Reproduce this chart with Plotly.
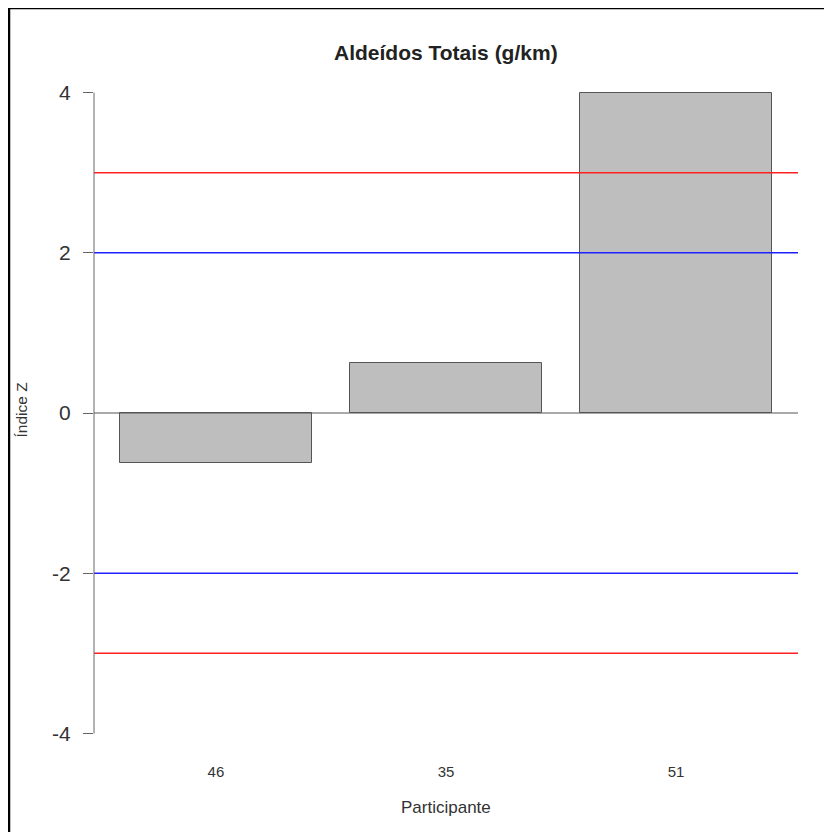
import plotly.graph_objects as go

participants = ["46", "35", "51"]
z_index = [-0.62, 0.62, 4.0]
red_limits = [3, -3]
blue_limits = [2, -2]
y_ticks = [-4, -2, 0, 2, 4]
y_tick_text = ["-4", "-2", "0", "2", "4"]

OFF = 8  # default body margin of the page
W, H = 832 - OFF, 832 - OFF
# target plot area in page pixels
PL, PR, PT, PB = 94, 798, 67, 759
L, R, T, B = PL - OFF, W + OFF - PR, PT - OFF, H + OFF - PB
PW, PH = PR - PL, PB - PT

def px(x):
    return (x - PL) / PW

def py(y):
    return (PB - y) / PH

FONT = "Liberation Sans, Arial, Helvetica, sans-serif"

fig = go.Figure()
fig.add_trace(go.Bar(
    x=participants, y=z_index, width=0.833,
    marker=dict(color="#bebebe", line=dict(color="#555555", width=1)),
    hoverinfo="x+y",
))

shapes = []
shapes.append(dict(type="line", xref="paper", x0=0, x1=1, yref="y", y0=0, y1=0,
                   line=dict(color="#555555", width=1), layer="above"))
for v in red_limits:
    shapes.append(dict(type="line", xref="paper", x0=0, x1=1, yref="y", y0=v, y1=v,
                       line=dict(color="#ff2020", width=1.5), layer="above"))
for v in blue_limits:
    shapes.append(dict(type="line", xref="paper", x0=0, x1=1, yref="y", y0=v, y1=v,
                       line=dict(color="#2020ff", width=1.5), layer="above"))
shapes.append(dict(type="line", xref="paper", x0=0, x1=0, yref="y", y0=y_ticks[0], y1=y_ticks[-1],
                   line=dict(color="#666666", width=1), layer="above"))
# page frame (left and top)
shapes.append(dict(type="line", xref="paper", yref="paper", x0=px(9), x1=px(9), y0=py(8), y1=py(850),
                   line=dict(color="black", width=2.5)))
shapes.append(dict(type="line", xref="paper", yref="paper", x0=px(8), x1=px(850), y0=py(8), y1=py(8),
                   line=dict(color="black", width=2.5)))

annotations = [
    dict(text="<b>Aldeídos Totais (g/km)</b>", xref="paper", yref="paper", x=0.5, y=py(53),
         xanchor="center", yanchor="middle", showarrow=False,
         font=dict(family=FONT, size=21, color="#222222")),
    dict(text="Participante", xref="paper", yref="paper", x=0.5, y=py(807),
         xanchor="center", yanchor="middle", showarrow=False,
         font=dict(family=FONT, size=17, color="#333333")),
    dict(text="Índice Z", xref="paper", yref="paper", x=px(20.5), y=py(410),
         xanchor="center", yanchor="middle", showarrow=False, textangle=-90,
         font=dict(family=FONT, size=15.5, color="#333333")),
]

fig.update_layout(
    width=W, height=H,
    margin=dict(l=L, r=R, t=T, b=B, autoexpand=False),
    paper_bgcolor="white", plot_bgcolor="white",
    showlegend=False,
    bargap=0,
    shapes=shapes,
    annotations=annotations,
    font=dict(family=FONT),
    xaxis=dict(type="category", range=[-0.53, 2.53], showgrid=False, zeroline=False,
               showline=False, ticks="", ticklabelstandoff=2,
               tickfont=dict(family=FONT, size=15, color="#333333")),
    yaxis=dict(range=[-4.32, 4.32], tickvals=y_ticks, ticktext=y_tick_text,
               showgrid=False, zeroline=False,
               showline=False, ticks="outside", ticklen=10, tickcolor="#666666", tickwidth=1,
               ticklabelstandoff=8,
               tickfont=dict(family=FONT, size=21, color="#333333")),
)

fig.write_html(
    "out.html",
    config={"displayModeBar": False},
    post_script="document.documentElement.style.overflow='hidden';document.body.style.overflow='hidden';",
)
